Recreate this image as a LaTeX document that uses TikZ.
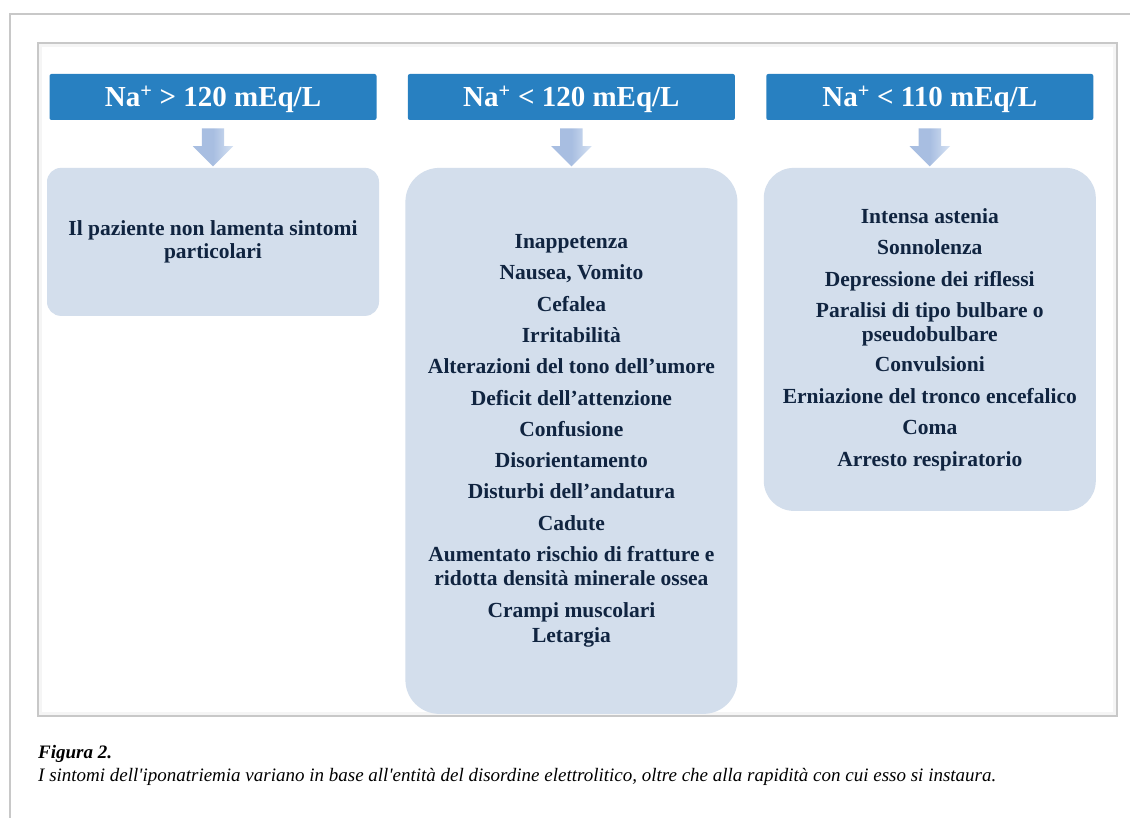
\documentclass[tikz,border=0pt]{standalone}
\usepackage{fontspec}
\setmainfont{Liberation Serif}
\newfontfamily\capfont{Liberation Serif}
\usetikzlibrary{shapes.arrows, positioning}
\definecolor{hdrblue}{RGB}{40,128,193}
\definecolor{boxblue}{RGB}{211,222,236}
\definecolor{arrblue}{RGB}{168,190,225}
\definecolor{arrlight}{RGB}{214,226,243}
\definecolor{navytext}{RGB}{16,36,64}
\definecolor{framegray}{RGB}{200,200,200}
\tikzset{
  header/.style={
    rectangle, rounded corners=2pt, fill=hdrblue, text=white,
    font=\fontsize{29}{31}\selectfont\bfseries,
    minimum width=327pt, minimum height=46pt, inner sep=0pt,
    text depth=1pt},
  downarr/.style={
    single arrow, shape border rotate=270,
    left color=arrblue, right color=arrlight, middle color=arrblue,
    minimum height=38pt, minimum width=40pt,
    single arrow head extend=9pt, single arrow head indent=0pt, inner sep=11pt},
  symbox/.style={
    rectangle, rounded corners=30pt, fill=boxblue, text=navytext,
    font=\fontsize{21.5}{23.5}\selectfont\bfseries,
    minimum width=332pt, align=center, inner sep=0pt},
  caption/.style={
    anchor=base west, inner sep=0pt,
    font=\capfont\itshape\fontsize{19}{22}\selectfont},
}
\begin{document}
\begin{tikzpicture}[x=1pt, y=-1pt, node distance=8pt]
\useasboundingbox (0,0) rectangle (1130,818);
\fill[white] (0,0) rectangle (1130,818);

% frames
\draw[framegray, line width=2pt] (10,818) -- (10,14) -- (1130,14);
\draw[gray!8, line width=3pt] (40.5,45.5) rectangle (1114.5,713.5);
\draw[framegray, line width=1.2pt] (38,43) rectangle (1117,716);

% headers
\node[header] (hdr1) at (213,97) {Na\textsuperscript{+} > 120 mEq/L};
\node[header, right=31pt of hdr1] (hdr2) {Na\textsuperscript{+} < 120 mEq/L};
\node[header, right=31pt of hdr2] (hdr3) {Na\textsuperscript{+} < 110 mEq/L};

% arrows
\node[downarr, below=of hdr1] (arr1) {};
\node[downarr, below=of hdr2] (arr2) {};
\node[downarr, below=of hdr3] (arr3) {};

% symptom boxes
\node[symbox, rounded corners=14pt, minimum height=148pt, below=1pt of arr1] (box1)
  {Il paziente non lamenta sintomi\\particolari};
\node[symbox, rounded corners=34pt, minimum height=546pt, below=1pt of arr2] (box2)
  {Inappetenza\\[7.8pt]
   Nausea, Vomito\\[7.8pt]
   Cefalea\\[7.8pt]
   Irritabilità\\[7.8pt]
   Alterazioni del tono dell’umore\\[7.8pt]
   Deficit dell’attenzione\\[7.8pt]
   Confusione\\[7.8pt]
   Disorientamento\\[7.8pt]
   Disturbi dell’andatura\\[7.8pt]
   Cadute\\[7.8pt]
   Aumentato rischio di fratture e\\
   ridotta densità minerale ossea\\[9pt]
   Crampi muscolari\\[1.5pt]
   Letargia};
\node[symbox, minimum height=343pt, below=1pt of arr3] (box3)
  {Intensa astenia\\[8pt]
   Sonnolenza\\[8pt]
   Depressione dei riflessi\\[8pt]
   Paralisi di tipo bulbare o\\
   pseudobulbare\\[7pt]
   Convulsioni\\[8pt]
   Erniazione del tronco encefalico\\[8pt]
   Coma\\[8pt]
   Arresto respiratorio};

% caption
\node[caption] (cap1) at (38,758) {\bfseries Figura 2.};
\node[caption] (cap2) at (38,781) {I sintomi dell'iponatriemia variano in base all'entità del disordine elettrolitico, oltre che alla rapidità con cui esso si instaura.};
\end{tikzpicture}
\end{document}
